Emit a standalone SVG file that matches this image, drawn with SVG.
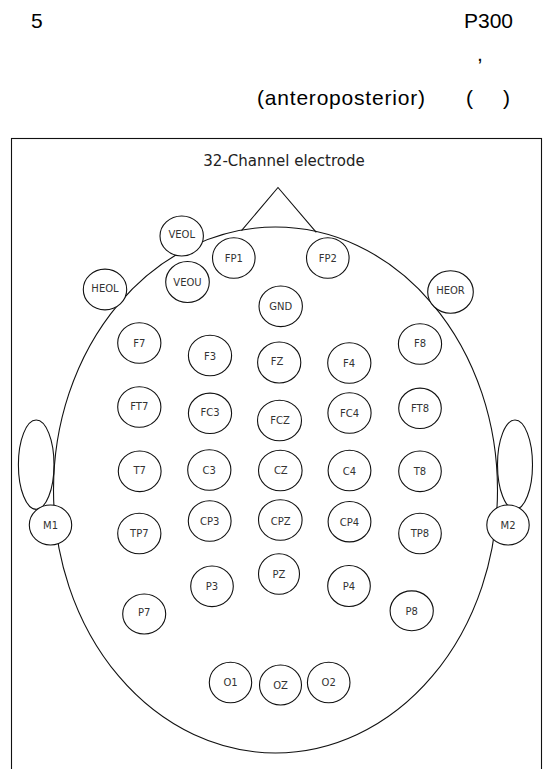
<svg xmlns="http://www.w3.org/2000/svg" width="550" height="769" viewBox="0 0 550 769">
  <style>
    .hdr { font-family: "Liberation Sans", Arial, sans-serif; font-size: 21px; fill: #000; }
    .ttl { font-family: "DejaVu Sans", sans-serif; font-size: 15px; fill: #222; text-anchor: middle; }
    .line { fill: none; stroke: #111; stroke-width: 1.1; }
    .el ellipse { fill: #fff; stroke: #111; stroke-width: 1.1; }
    .el text { font-family: "DejaVu Sans", sans-serif; font-size: 10px; fill: #333; text-anchor: middle; }
  </style>

  <!-- heading lines -->
  <text class="hdr" x="31" y="28">5</text>
  <text class="hdr" x="464" y="28">P300</text>
  <text class="hdr" x="477" y="61">,</text>
  <text class="hdr" x="257" y="105" textLength="168" lengthAdjust="spacing">(anteroposterior)</text>
  <text class="hdr" x="466" y="105">(</text>
  <text class="hdr" x="503" y="105">)</text>

  <!-- frame and head outline -->
  <g id="head">
    <rect class="line" x="11.5" y="138.5" width="530" height="700"/>
    <text class="ttl" x="284" y="166">32-Channel electrode</text>
    <ellipse class="line" cx="36.2" cy="464.7" rx="17.8" ry="44.7"/>
    <ellipse class="line" cx="515" cy="464.7" rx="17.5" ry="44.7"/>
    <ellipse class="line" cx="275.5" cy="490" rx="222" ry="263"/>
    <polyline class="line" points="241.5,230.6 278,187.5 316.3,232.3"/>
  </g>

  <!-- electrode sites -->
  <g id="electrodes" class="el">
    <g id="VEOL"><ellipse cx="181.7" cy="236" rx="21.7" ry="20"/><text x="181.7" y="238.4">VEOL</text></g>
    <g id="FP1"><ellipse cx="233.8" cy="258" rx="21.3" ry="20.3"/><text x="233.8" y="261.8">FP1</text></g>
    <g id="FP2"><ellipse cx="327.8" cy="258" rx="21.3" ry="20.3"/><text x="327.8" y="261.8">FP2</text></g>
    <g id="VEOU"><ellipse cx="187.5" cy="282" rx="21.8" ry="20.5"/><text x="187.5" y="285.6">VEOU</text></g>
    <g id="HEOL"><ellipse cx="105" cy="289.5" rx="21.7" ry="20.4"/><text x="105" y="292.2">HEOL</text></g>
    <g id="HEOR"><ellipse cx="450.5" cy="292" rx="22.8" ry="21.2"/><text x="450.5" y="294.2">HEOR</text></g>
    <g id="GND"><ellipse cx="280.7" cy="306.3" rx="21.7" ry="20.3"/><text x="280.7" y="309.8">GND</text></g>

    <g id="F7"><ellipse cx="139.3" cy="343" rx="21.6" ry="20.3"/><text x="139.3" y="346.6">F7</text></g>
    <g id="F3"><ellipse cx="210" cy="355.5" rx="21.6" ry="20.3"/><text x="210" y="359.8">F3</text></g>
    <g id="FZ"><ellipse cx="279.2" cy="362.5" rx="21.6" ry="20.5"/><text x="277" y="365.4">FZ</text></g>
    <g id="F4"><ellipse cx="349.3" cy="363" rx="21.6" ry="20.3"/><text x="349" y="366.8">F4</text></g>
    <g id="F8"><ellipse cx="420" cy="344" rx="21.6" ry="20.2"/><text x="420" y="347.1">F8</text></g>

    <g id="FT7"><ellipse cx="139.3" cy="407" rx="21.6" ry="20.3"/><text x="139.3" y="409.8">FT7</text></g>
    <g id="FC3"><ellipse cx="210" cy="413.3" rx="21.6" ry="20.2"/><text x="210" y="416.1">FC3</text></g>
    <g id="FCZ"><ellipse cx="279.5" cy="420.5" rx="22" ry="20.3"/><text x="280" y="423.6">FCZ</text></g>
    <g id="FC4"><ellipse cx="349.5" cy="413" rx="21.6" ry="20.2"/><text x="349.5" y="417.2">FC4</text></g>
    <g id="FT8"><ellipse cx="420" cy="408.3" rx="21.3" ry="20.2"/><text x="420" y="411.9">FT8</text></g>

    <g id="T7"><ellipse cx="139.7" cy="471.3" rx="21.4" ry="20.3"/><text x="139.7" y="474.4">T7</text></g>
    <g id="C3"><ellipse cx="209.3" cy="470" rx="21.6" ry="20.2"/><text x="209.3" y="473.6">C3</text></g>
    <g id="CZ"><ellipse cx="280.3" cy="470.5" rx="21.8" ry="20.2"/><text x="280.8" y="474.4">CZ</text></g>
    <g id="C4"><ellipse cx="349.5" cy="470.5" rx="21.4" ry="20.2"/><text x="349.5" y="474.6">C4</text></g>
    <g id="T8"><ellipse cx="420" cy="471.3" rx="21.3" ry="20.3"/><text x="420" y="474.6">T8</text></g>

    <g id="M1"><ellipse cx="50.5" cy="525" rx="21.2" ry="20"/><text x="50.5" y="529.4">M1</text></g>
    <g id="CP3"><ellipse cx="209.7" cy="521" rx="21.4" ry="20.2"/><text x="209.7" y="524.8">CP3</text></g>
    <g id="CPZ"><ellipse cx="280.3" cy="520" rx="21.8" ry="20.2"/><text x="280.8" y="524.5">CPZ</text></g>
    <g id="CP4"><ellipse cx="349.5" cy="521.7" rx="21.4" ry="20.2"/><text x="349.5" y="525.8">CP4</text></g>
    <g id="M2"><ellipse cx="508" cy="525" rx="21.2" ry="20"/><text x="508" y="529.4">M2</text></g>
    <g id="TP7"><ellipse cx="139.3" cy="533.5" rx="21.6" ry="20.3"/><text x="139.3" y="537.1">TP7</text></g>
    <g id="TP8"><ellipse cx="420" cy="533.5" rx="21.3" ry="20.3"/><text x="420" y="537.1">TP8</text></g>

    <g id="PZ"><ellipse cx="279" cy="574" rx="20.5" ry="20.3"/><text x="279" y="577.8">PZ</text></g>
    <g id="P3"><ellipse cx="212" cy="586.3" rx="21.3" ry="20.3"/><text x="212" y="589.9">P3</text></g>
    <g id="P4"><ellipse cx="349" cy="586" rx="21.3" ry="20.5"/><text x="349" y="590.3">P4</text></g>
    <g id="P7"><ellipse cx="144.2" cy="614" rx="21.5" ry="20"/><text x="144.2" y="616.4">P7</text></g>
    <g id="P8"><ellipse cx="411.7" cy="610.8" rx="21.6" ry="19.9"/><text x="411.7" y="614.8">P8</text></g>

    <g id="O1"><ellipse cx="230.5" cy="682.5" rx="21.2" ry="20.2"/><text x="230.5" y="685.8">O1</text></g>
    <g id="OZ"><ellipse cx="280.5" cy="685" rx="21" ry="20"/><text x="280.5" y="688.6">OZ</text></g>
    <g id="O2"><ellipse cx="328.7" cy="682.5" rx="21.3" ry="20.2"/><text x="328.7" y="686.1">O2</text></g>
  </g>

  <!-- no connector lines in this figure -->
  <g id="connectors"/>
</svg>
